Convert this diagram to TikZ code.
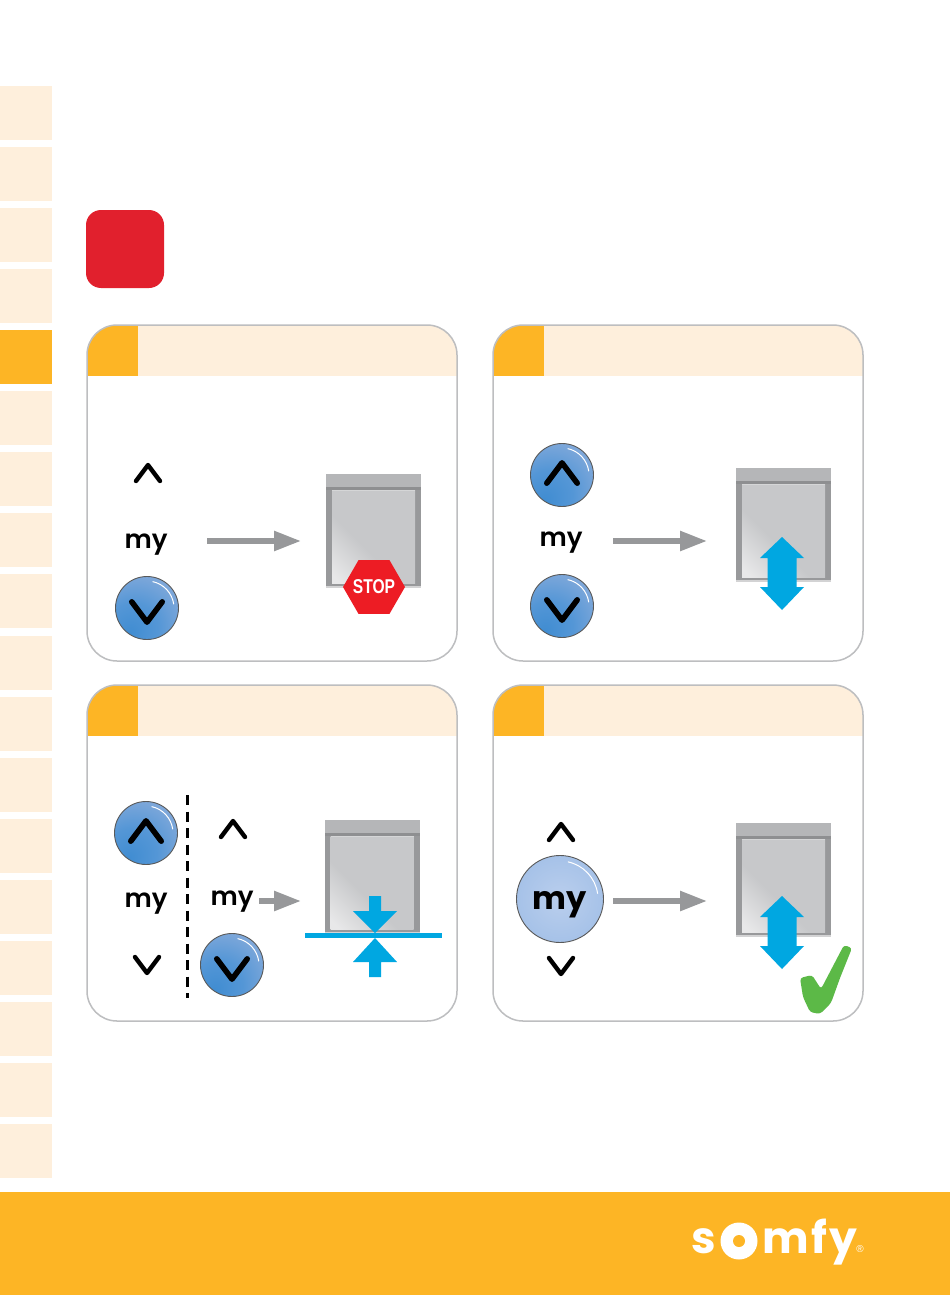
\documentclass[tikz,border=0pt]{standalone}
\usepackage{fontspec}
\usetikzlibrary{arrows.meta,shapes.geometric}
\newfontfamily\roundfont{Poppins}[BoldFont={Poppins SemiBold}]
\newfontfamily\heavyfont{Poppins}
\newfontfamily\logofont{Poppins}[LetterSpace=6]
\newfontfamily\stopfont{Liberation Sans}
\definecolor{tabpale}{HTML}{FEEFDC}
\definecolor{somfyorange}{HTML}{FDB525}
\definecolor{panelline}{HTML}{BDBEC0}
\definecolor{alertred}{HTML}{E1202D}
\definecolor{stopred}{HTML}{ED1C24}
\definecolor{arrowgrey}{HTML}{97989A}
\definecolor{coolblue}{HTML}{00A7E1}
\definecolor{okgreen}{HTML}{5CB947}
\definecolor{blindtop}{HTML}{B5B6B8}
\definecolor{blinddark}{HTML}{8E8F91}
\definecolor{blindside}{HTML}{98999B}
\definecolor{blindbody}{HTML}{C7C8CA}
\definecolor{blindlight}{HTML}{E8E8E9}
\pgfdeclareradialshading{btnblue}{\pgfpoint{-14bp}{-20bp}}{rgb(0bp)=(0.25,0.55,0.82); rgb(20bp)=(0.33,0.59,0.84); rgb(45bp)=(0.55,0.68,0.86); rgb(75bp)=(0.76,0.81,0.89); rgb(100bp)=(0.76,0.81,0.89)}
\pgfdeclareradialshading{btnpale}{\pgfpoint{0bp}{0bp}}{rgb(0bp)=(0.73,0.81,0.93); rgb(25bp)=(0.65,0.76,0.91); rgb(50bp)=(0.55,0.69,0.87); rgb(100bp)=(0.55,0.69,0.87)}
\pgfdeclareverticalshading{blindglow}{100bp}{color(0bp)=(blindlight); color(18bp)=(blindlight); color(42bp)=(blindbody); color(100bp)=(blindbody)}
\newcommand{\panelbox}[2]{
	\begin{scope}
		\clip[rounded corners=30] (#1,#2) rectangle ++(370,336);
		\fill[tabpale] (#1,#2) rectangle ++(370,51);
		\fill[somfyorange] (#1,#2) rectangle ++(51,51);
	\end{scope}
	\draw[panelline,line width=1.5,rounded corners=30] (#1,#2) rectangle ++(370,336);
}
\newcommand{\blindbox}[2]{
	\begin{scope}[shift={(#1,#2)}]
		\fill[blindside] (0,14) rectangle (95,112);
		\shade[shading=blindglow,shading angle=-45] (6,16) rectangle (89,109);
		\fill[blindtop] (0,0) rectangle (95,14);
		\fill[blinddark] (0,13) rectangle (95,16);
		\fill[blindbody!75!white] (6,16) rectangle (89,17);
		\fill[blindtop!60!white] (0,112) rectangle (95,114);
	\end{scope}
}
\newcommand{\bothway}[2]{
	\fill[coolblue] (#1,#2) -- ++(22,21) -- ++(-7.5,0) -- ++(0,29) -- ++(7.5,0) -- ++(-22,23)
		-- ++(-22,-23) -- ++(7.5,0) -- ++(0,-29) -- ++(-7.5,0) -- cycle;
}
\newcommand{\chevup}[3]{
	\draw[black,line width=4.4*#3,line cap=round,line join=round] (#1-12*#3,#2+8*#3) -- (#1,#2-8*#3) -- (#1+12*#3,#2+8*#3);
}
\newcommand{\chevdown}[3]{
	\draw[black,line width=4.4*#3,line cap=round,line join=round] (#1-12*#3,#2-8*#3) -- (#1,#2+8*#3) -- (#1+12*#3,#2-8*#3);
}
\newcommand{\shine}[3]{
	\draw[white,line width=1] (#1,#2) ++(-78:#3) arc[start angle=-78,end angle=-8,radius=#3];
}
\begin{document}
\begin{tikzpicture}[x=1pt,y=-1pt]
	\tikzstyle{mylabel}=[font=\roundfont\bfseries\fontsize{26}{26}\selectfont,inner sep=0,anchor=base]
	\tikzstyle{btnsmall}=[circle,draw=black!65,line width=0.9,shading=btnblue,minimum size=63,inner sep=0]
	\tikzstyle{btnlarge}=[circle,draw=black!65,line width=0.9,shading=btnpale,minimum size=87,inner sep=0]
	\tikzstyle{moveline}=[arrowgrey,line width=5.5,-{Triangle[length=27,width=19]}]
	\tikzstyle{logotext}=[white,font=\logofont\bfseries\fontsize{44}{44}\selectfont,anchor=base west,inner sep=0]
	\useasboundingbox (0,0) rectangle (950,1295);
	\fill[white] (0,0) rectangle (950,1295);
	\foreach \row in {0,...,17}{
		\fill[tabpale] (0,86+61.06*\row) rectangle ++(52,54);
	}
	\fill[somfyorange] (0,330) rectangle ++(52,54);
	\fill[somfyorange] (0,1192) rectangle (950,1295);
	\fill[alertred,rounded corners=15] (86,210) rectangle (164,288);

	\panelbox{87}{325}
	\panelbox{493}{325}
	\panelbox{87}{685}
	\panelbox{493}{685}

	\blindbox{326}{474}
	\blindbox{736}{468}
	\blindbox{324.5}{820}
	\blindbox{736}{823}

	\chevup{148}{473}{1}
	\node[mylabel] (myA) at (146,548) {my};
	\node[btnsmall] (downA) at (147,608) {};
	\shine{147}{608}{27}
	\chevdown{147}{612}{1.27}
	\coordinate (startA) at (207,541);
	\coordinate (endA) at (301,541);
	\draw[moveline] (startA) -- (endA);
	\node[regular polygon,regular polygon sides=6,fill=stopred,minimum size=62,inner sep=0] (stopA) at (374,587) {};
	\node[inner sep=0,text=white,font=\stopfont\bfseries\fontsize{20}{20}\selectfont] (stopText) at (stopA) {\scalebox{0.78}[1]{STOP}};

	\node[btnsmall] (upB) at (562,475) {};
	\shine{562}{475}{27}
	\chevup{562}{473}{1.27}
	\node[mylabel] (myB) at (561,546) {my};
	\node[btnsmall] (downB) at (562,606) {};
	\shine{562}{606}{27}
	\chevdown{562}{610}{1.27}
	\coordinate (startB) at (613,541);
	\coordinate (endB) at (707,541);
	\draw[moveline] (startB) -- (endB);
	\bothway{782}{537}

	\node[btnsmall] (upC) at (146,833) {};
	\shine{146}{833}{27}
	\chevup{146}{831}{1.27}
	\node[mylabel] (myC) at (146,907) {my};
	\chevdown{147}{965}{1}
	\draw[black,line width=3,dash pattern=on 10 off 6.5] (187,795) -- (187,998);
	\chevup{233}{829}{1}
	\node[mylabel] (myD) at (232,905) {my};
	\node[btnsmall] (downC) at (232,965) {};
	\shine{232}{965}{27}
	\chevdown{232}{969}{1.27}
	\coordinate (startC) at (259,901);
	\coordinate (endC) at (301,901);
	\draw[moveline] (startC) -- (endC);
	\fill[coolblue] (305,932.5) rectangle (442,938);
	\fill[coolblue] (369,896) -- (381,896) -- (381,911) -- (397,911) -- (375,933) -- (353,911) -- (369,911) -- cycle;
	\fill[coolblue] (369,977) -- (381,977) -- (381,962) -- (397,962) -- (375,938) -- (353,962) -- (369,962) -- cycle;

	\chevup{561}{832}{1}
	\node[btnlarge] (myE) at (560,899) {};
	\shine{560}{899}{38}
	\node[mylabel,font=\heavyfont\bfseries\fontsize{32}{32}\selectfont] at (560,909) {my};
	\chevdown{561}{966}{1}
	\coordinate (startE) at (613,901);
	\coordinate (endE) at (707,901);
	\draw[moveline] (startE) -- (endE);
	\bothway{782}{896}
	\fill[okgreen,rounded corners=3] (800,978) -- (812,975) -- (821,989) -- (844,945) -- (852,948) -- (840,978) -- (831,1003) -- (820,1014) -- (810,1012) -- (803,997) -- cycle;

	\node[logotext] (logoS) at (691,1253) {s};
	\node[circle,fill=white,minimum size=37,inner sep=0] (logoO) at (739,1241) {};
	\node[circle,fill=somfyorange,minimum size=12,inner sep=0] (logoHole) at (logoO) {};
	\node[logotext] (logoRest) at (762,1253) {mfy};
	\node[white,font=\stopfont\fontsize{10}{10}\selectfont,inner sep=0] (logoReg) at (860,1249) {®};
\end{tikzpicture}
\end{document}
